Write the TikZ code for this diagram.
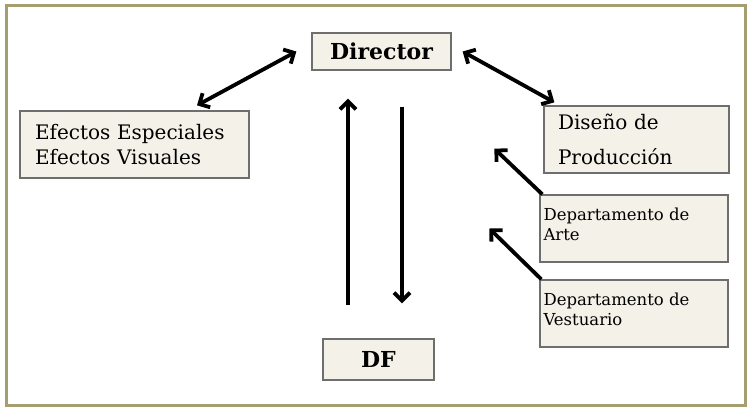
\documentclass[tikz,border=0pt]{standalone}
\usepackage{fontspec}
\setmainfont{DejaVu Serif}
\usetikzlibrary{arrows.meta,positioning,calc}
\definecolor{frameolive}{HTML}{A59E6E}
\definecolor{boxfill}{HTML}{F3F1E8}
\definecolor{boxline}{HTML}{6E6E6E}

\begin{document}
\begin{tikzpicture}[x=1pt,y=-1pt,
  box/.style={draw=boxline, fill=boxfill, line width=1.3pt, inner sep=0pt},
  bigtxt/.style={font=\fontsize{20}{25}\selectfont},
  headtxt/.style={font=\fontsize{22}{26}\selectfont\bfseries},
  smalltxt/.style={font=\fontsize{16.5}{20}\selectfont, align=left, inner sep=0pt},
  link/.style={line width=3.8pt, -{Straight Barb[length=8pt,width=16pt]}},
  dlink/.style={line width=3.8pt, {Straight Barb[length=8pt,width=16pt]}-{Straight Barb[length=8pt,width=16pt]}}]
\useasboundingbox (0,0) rectangle (749,407);
% outer frame
\draw[frameolive, line width=3pt] (6,5) rectangle (745,405);
% boxes
\node[box, minimum width=139, minimum height=37, headtxt] (dir) at (381.5,51.5) {Director};
\node[box, minimum width=111, minimum height=41, headtxt] (df) at (378.5,359.5) {DF};
\node[box, minimum width=229, minimum height=67, text width=199, align=left, bigtxt] (efe) at (134.5,144.5) {Efectos Especiales\\Efectos Visuales};
\node[box, minimum width=185, minimum height=67, text width=157, align=left, font=\fontsize{20}{35}\selectfont] (dis) at (636.5,139.5) {Diseño de\\Producción};
\node[box, minimum width=188, minimum height=67] (arte) at (634,228.5) {};
\node[smalltxt, anchor=north west] (artetxt) at ([shift={(4,13)}]arte.north west) {Departamento de\\Arte};
\node[box, minimum width=188, minimum height=67] (vest) at (634,313.5) {};
\node[smalltxt, anchor=north west] (vesttxt) at ([shift={(4,13)}]vest.north west) {Departamento de\\Vestuario};
% connectors
\draw[dlink] ([shift={(62.5,-5)}]efe.north) -- ([xshift=-15pt]dir.west);
\draw[dlink] ([xshift=11pt]dir.east) -- ([shift={(11,-3)}]dis.north west);
\draw[link] ([shift={(-30.5,-33)}]df.north) -- ([shift={(-33.5,28)}]dir.south);
\draw[link] ([shift={(20.5,36)}]dir.south) -- ([shift={(23.5,-35)}]df.north);
\draw[link] ([xshift=3pt]arte.north west) -- ([shift={(-49,-25)}]dis.south west);
\draw[link] ([xshift=2pt]vest.north west) -- ([xshift=-50pt]arte.west);
\end{tikzpicture}
\end{document}
